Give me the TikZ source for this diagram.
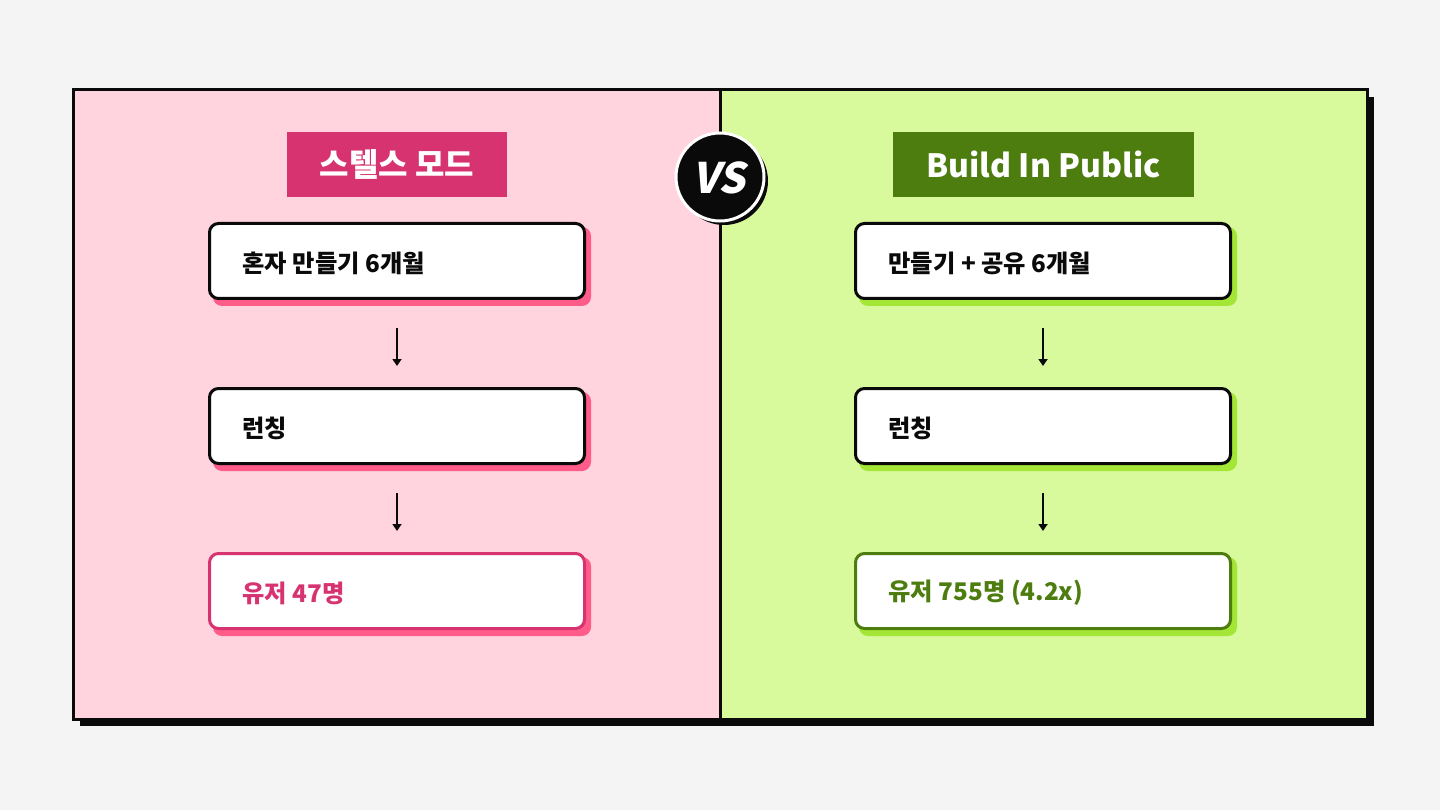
\documentclass[tikz,border=0pt]{standalone}
\usepackage{fontspec}
\setmainfont{Noto Sans CJK KR}
\newfontfamily\heavy{Noto Sans CJK KR Black}
\newfontfamily\vsfont[FakeSlant=0.22]{Noto Sans CJK KR Black}
\usetikzlibrary{arrows.meta}
\definecolor{bgc}{HTML}{F4F4F4}
\definecolor{pinkbg}{HTML}{FFD4DF}
\definecolor{greenbg}{HTML}{D9F99D}
\definecolor{pinkdark}{HTML}{D63370}
\definecolor{pinkshadow}{HTML}{FF5C8A}
\definecolor{greendark}{HTML}{4D7C0F}
\definecolor{greenshadow}{HTML}{A3E635}
\definecolor{ink}{HTML}{0A0A0A}
\tikzset{
  x=1pt, y=-1pt,
  stepbox/.style={draw=ink, line width=3pt, fill=white, rounded corners=9pt,
    minimum width=375pt, minimum height=75pt, inner sep=0pt},
  steptext/.style={anchor=west, font=\heavy\fontsize{24.3}{28}\selectfont, text=ink},
  titlebox/.style={minimum height=65pt, inner sep=0pt, text=white,
    font=\heavy\fontsize{32}{36}\selectfont},
  flow/.style={draw=ink, line width=2pt, -{Triangle[width=9pt,length=7pt]}},
}
\begin{document}
\begin{tikzpicture}
\useasboundingbox (0,0) rectangle (1440,810);
\fill[bgc] (0,0) rectangle (1440,810);
% frame shadow and panels
\fill[ink] (80,97) rectangle (1374,726);
\fill[pinkbg] (73,90) rectangle (720,719);
\fill[greenbg] (720,90) rectangle (1367,719);
\draw[ink, line width=3pt] (73,90) rectangle (1367,719);
\draw[ink, line width=3pt] (720,90) -- (720,719);
% VS badge
\fill[ink] (724,181) circle (44);
\node[circle, fill=ink, draw=white, line width=3pt, minimum size=88pt, inner sep=0pt] (vs) at (720,177) {};
\node[text=white, font=\vsfont\fontsize{42}{46}\selectfont] (vstext) at (719,178) {VS};
% titles
\node[titlebox, fill=pinkdark, minimum width=220pt] (lt) at (397,164.5) {스텔스 모드};
\node[titlebox, fill=greendark, minimum width=301pt] (rt) at (1043.5,164.5) {Build In Public};
% left boxes
\foreach \n/\y in {l1/261, l2/426, l3/591}{
  \fill[pinkshadow, rounded corners=9pt] (213,\y-34) rectangle (591,\y+45);
}
\node[stepbox] (l1) at (397,261) {};
\node[stepbox] (l2) at (397,426) {};
\node[stepbox, draw=pinkdark] (l3) at (397,591) {};
\node[steptext] (l1t) at (239,263) {혼자 만들기 6개월};
\node[steptext] (l2t) at (239,428) {런칭};
\node[steptext, text=pinkdark] (l3t) at (239,593) {유저 47명};
% right boxes
\foreach \n/\y in {r1/261, r2/426, r3/591}{
  \fill[greenshadow, rounded corners=9pt] (859,\y-34) rectangle (1237,\y+45);
}
\node[stepbox] (r1) at (1043,261) {};
\node[stepbox] (r2) at (1043,426) {};
\node[stepbox, draw=greendark] (r3) at (1043,591) {};
\node[steptext] (r1t) at (885,263) {만들기 + 공유 6개월};
\node[steptext] (r2t) at (885,428) {런칭};
\node[steptext, text=greendark] (r3t) at (885,593) {유저 755명 (4.2x)};
% arrows
\coordinate (la1) at (397,328); \coordinate (lb1) at (397,366);
\coordinate (la2) at (397,493); \coordinate (lb2) at (397,531);
\coordinate (ra1) at (1043,328); \coordinate (rb1) at (1043,366);
\coordinate (ra2) at (1043,493); \coordinate (rb2) at (1043,531);
\draw[flow] (la1) -- (lb1);
\draw[flow] (la2) -- (lb2);
\draw[flow] (ra1) -- (rb1);
\draw[flow] (ra2) -- (rb2);
\end{tikzpicture}
\end{document}
